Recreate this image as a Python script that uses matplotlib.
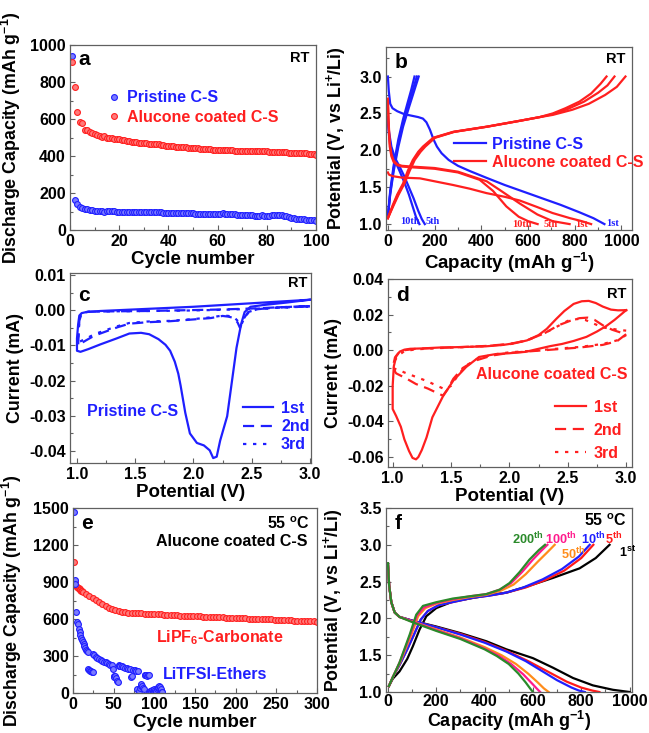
import numpy as np
import matplotlib
matplotlib.use("Agg")
import matplotlib.pyplot as plt
from matplotlib.ticker import MultipleLocator, FormatStrFormatter

plt.rcParams['font.family'] = ['Liberation Sans', 'DejaVu Sans']
plt.rcParams['font.weight'] = 'bold'
plt.rcParams['mathtext.fontset'] = 'custom'
plt.rcParams['mathtext.rm'] = 'Liberation Sans:bold'
plt.rcParams['mathtext.bf'] = 'Liberation Sans:bold'
plt.rcParams['mathtext.it'] = 'Liberation Sans:bold'
plt.rcParams['axes.unicode_minus'] = False

BLUE = '#1f1fff'
RED = '#ff1f1f'

# ---------------- panel a data ----------------
a_cycles = list(range(1, 101))
a_pristine = [940, 162, 138, 127, 120, 115, 111, 108, 106, 104,
              103, 102, 101, 100, 101, 103, 102, 101, 100, 100,
              99, 99, 99, 98, 98, 98, 97, 97, 97, 96,
              96, 96, 96, 95, 95, 95, 95, 93, 92, 92,
              92, 91, 91, 91, 91, 90, 90, 90, 90, 90,
              89, 89, 89, 89, 89, 88, 88, 88, 87, 87,
              88, 90, 89, 88, 86, 85, 84, 83, 82, 81,
              80, 80, 79, 79, 78, 78, 77, 80, 78, 77,
              78, 79, 80, 80, 81, 80, 78, 75, 70, 67,
              64, 62, 60, 58, 57, 55, 54, 53, 52, 51]
a_alucone = [910, 775, 640, 585, 580, 540, 538, 532, 526, 520,
             515, 510, 505, 510, 500, 498, 495, 492, 490, 490,
             488, 486, 483, 480, 478, 476, 474, 472, 470, 468,
             468, 467, 466, 466, 465, 463, 460, 458, 456, 455,
             454, 452, 450, 449, 448, 447, 446, 445, 444, 443,
             442, 441, 440, 440, 439, 438, 436, 434, 434, 434,
             433, 432, 431, 430, 430, 430, 429, 429, 428, 428,
             427, 427, 426, 426, 425, 425, 425, 427, 428, 426,
             424, 423, 422, 421, 421, 420, 420, 419, 418, 417,
             416, 416, 415, 415, 414, 414, 413, 413, 412, 408]

# ---------------- panel b data ----------------
b_pr_d1_x = [0, 4, 10, 20, 40, 70, 100, 130, 150, 165, 180, 195, 210, 230, 260, 300, 350, 420, 500, 580, 660, 740, 820, 880, 927]
b_pr_d1_y = [3.0, 2.8, 2.63, 2.57, 2.53, 2.49, 2.47, 2.45, 2.43, 2.38, 2.28, 2.15, 2.05, 1.96, 1.87, 1.79, 1.72, 1.63, 1.53, 1.44, 1.35, 1.26, 1.16, 1.08, 1.0]
b_pr_d5_x = [0, 5, 15, 30, 50, 70, 90, 110, 130, 145, 158]
b_pr_d5_y = [2.45, 2.25, 2.05, 1.9, 1.78, 1.65, 1.5, 1.35, 1.18, 1.07, 1.0]
b_pr_d10_x = [0, 5, 15, 30, 50, 70, 90, 105, 120, 135]
b_pr_d10_y = [2.4, 2.2, 2.0, 1.86, 1.72, 1.57, 1.4, 1.25, 1.1, 1.0]
b_pr_c1_x = [0, 10, 25, 45, 65, 85, 100, 114]
b_pr_c1_y = [1.1, 1.45, 1.8, 2.15, 2.42, 2.65, 2.82, 3.0]
b_pr_c5_x = [0, 10, 25, 45, 65, 85, 105, 124]
b_pr_c5_y = [1.1, 1.42, 1.76, 2.1, 2.37, 2.6, 2.8, 3.0]
b_pr_c10_x = [0, 10, 25, 45, 65, 90, 110, 132]
b_pr_c10_y = [1.1, 1.4, 1.72, 2.05, 2.32, 2.58, 2.78, 3.0]

b_al_d1_x = [0, 5, 20, 60, 137, 200, 279, 350, 422, 500, 564, 640, 705, 780, 830, 870]
b_al_d1_y = [1.7, 1.67, 1.65, 1.63, 1.62, 1.58, 1.53, 1.48, 1.42, 1.37, 1.32, 1.23, 1.15, 1.08, 1.04, 1.0]
b_al_d5_x = [0, 3, 8, 15, 25, 40, 60, 100, 150, 200, 300, 423, 480, 564, 640, 705, 778]
b_al_d5_y = [2.7, 2.4, 2.1, 1.95, 1.86, 1.81, 1.79, 1.78, 1.77, 1.76, 1.71, 1.58, 1.46, 1.28, 1.13, 1.04, 1.0]
b_al_d10_x = [0, 3, 8, 15, 25, 40, 60, 100, 150, 200, 300, 393, 450, 507, 560, 600, 641]
b_al_d10_y = [2.65, 2.35, 2.05, 1.92, 1.84, 1.8, 1.78, 1.77, 1.76, 1.75, 1.7, 1.6, 1.45, 1.24, 1.1, 1.04, 1.0]
b_al_c1_x = [0, 20, 40, 65, 85, 107, 130, 150, 194, 279, 422, 564, 650, 706, 760, 820, 870, 910, 936]
b_al_c1_y = [1.08, 1.25, 1.4, 1.55, 1.72, 1.87, 1.98, 2.05, 2.17, 2.25, 2.32, 2.4, 2.45, 2.5, 2.57, 2.66, 2.77, 2.9, 3.0]
b_al_c5_x = [0, 22, 43, 68, 89, 111, 135, 155, 198, 282, 424, 565, 650, 706, 770, 840, 900, 940, 970]
b_al_c5_y = [1.08, 1.25, 1.4, 1.55, 1.72, 1.87, 1.98, 2.05, 2.17, 2.25, 2.32, 2.4, 2.45, 2.49, 2.56, 2.66, 2.78, 2.88, 3.0]
b_al_c10_x = [0, 24, 46, 71, 93, 115, 140, 160, 202, 285, 426, 566, 650, 706, 790, 860, 930, 980, 1017]
b_al_c10_y = [1.08, 1.25, 1.4, 1.55, 1.72, 1.87, 1.98, 2.05, 2.17, 2.25, 2.32, 2.4, 2.45, 2.48, 2.55, 2.63, 2.75, 2.86, 3.0]

# ---------------- panel c data ----------------
c1_x = [3.0, 2.8, 2.6, 2.4, 2.2, 2.0, 1.8, 1.6, 1.4, 1.2, 1.08, 1.04, 1.02, 1.01, 1.0, 1.0, 1.03, 1.1, 1.2, 1.34, 1.45, 1.55, 1.62, 1.7, 1.76, 1.8, 1.84, 1.87, 1.89, 1.93, 1.97, 2.03, 2.09, 2.14, 2.17, 2.2, 2.23, 2.29, 2.33, 2.37, 2.41, 2.44, 2.49, 2.6, 2.8, 3.0]
c1_y = [0.003, 0.0026, 0.0022, 0.0018, 0.0014, 0.001, 0.0007, 0.0004, 0.0001, -0.0002, -0.0005, -0.0008, -0.0015, -0.004, -0.008, -0.0115, -0.0118, -0.011, -0.0097, -0.008, -0.0066, -0.0064, -0.0068, -0.0082, -0.0098, -0.0115, -0.0146, -0.018, -0.0214, -0.0291, -0.035, -0.0377, -0.0384, -0.0398, -0.042, -0.0416, -0.037, -0.0301, -0.0204, -0.0107, -0.0039, -0.0005, 0.001, 0.0015, 0.0022, 0.003]
c2_x = [3.0, 2.7, 2.5, 2.2, 1.9, 1.6, 1.3, 1.1, 1.04, 1.02, 1.01, 1.03, 1.08, 1.15, 1.25, 1.35, 1.45, 1.6, 1.8, 2.0, 2.15, 2.25, 2.3, 2.35, 2.38, 2.4, 2.43, 2.47, 2.55, 2.7, 3.0]
c2_y = [0.0012, 0.0008, 0.0005, 0.0002, 0.0, -0.0002, -0.0003, -0.0004, -0.0008, -0.003, -0.01, -0.0095, -0.0085, -0.0072, -0.006, -0.0048, -0.0038, -0.0034, -0.0031, -0.0026, -0.0022, -0.0016, -0.0018, -0.0022, -0.0035, -0.005, -0.0025, -0.0005, 0.0003, 0.0008, 0.0012]
c3_x = [3.0, 2.7, 2.5, 2.2, 1.9, 1.6, 1.3, 1.1, 1.04, 1.02, 1.01, 1.03, 1.08, 1.15, 1.25, 1.35, 1.45, 1.6, 1.8, 2.0, 2.15, 2.25, 2.3, 2.35, 2.38, 2.41, 2.44, 2.48, 2.55, 2.7, 3.0]
c3_y = [0.0011, 0.0007, 0.0004, 0.0001, -0.0001, -0.0002, -0.0003, -0.0004, -0.0007, -0.0025, -0.009, -0.0088, -0.008, -0.0068, -0.0056, -0.0045, -0.0036, -0.0032, -0.003, -0.0025, -0.002, -0.0015, -0.0016, -0.002, -0.003, -0.0042, -0.002, -0.0004, 0.0003, 0.0007, 0.0011]

# ---------------- panel d data ----------------
d1_x = [3.0, 2.9, 2.83, 2.75, 2.66, 2.55, 2.45, 2.35, 2.25, 2.14, 2.0, 1.88, 1.74, 1.63, 1.52, 1.43, 1.34, 1.29, 1.25, 1.22, 1.2, 1.17, 1.14, 1.1, 1.07, 1.03, 1.0, 1.0, 1.01, 1.03, 1.06, 1.1, 1.15, 1.25, 1.4, 1.6, 1.8, 1.95, 2.05, 2.15, 2.25, 2.32, 2.4, 2.47, 2.55, 2.62, 2.68, 2.74, 2.8, 2.87, 2.93, 3.0]
d1_y = [0.0225, 0.017, 0.0136, 0.0105, 0.0075, 0.0052, 0.0035, 0.0023, 0.0008, -0.0009, -0.0017, -0.0022, -0.0038, -0.0094, -0.017, -0.026, -0.0377, -0.049, -0.056, -0.06, -0.0613, -0.0605, -0.0566, -0.05, -0.043, -0.037, -0.033, -0.02, -0.009, -0.0035, -0.0008, 0.0003, 0.0008, 0.001, 0.0015, 0.0018, 0.0022, 0.003, 0.004, 0.0055, 0.0085, 0.012, 0.0175, 0.022, 0.026, 0.0275, 0.0277, 0.0265, 0.0245, 0.0228, 0.0224, 0.0225]
d2_x = [3.0, 2.92, 2.8, 2.6, 2.4, 2.2, 2.0, 1.85, 1.7, 1.6, 1.52, 1.47, 1.43, 1.38, 1.3, 1.2, 1.12, 1.06, 1.03, 1.02, 1.01, 1.02, 1.05, 1.1, 1.2, 1.4, 1.6, 1.8, 2.0, 2.15, 2.3, 2.42, 2.52, 2.6, 2.67, 2.73, 2.8, 2.88, 2.95, 3.0]
d2_y = [0.009, 0.005, 0.003, 0.0015, 0.0005, -0.0005, -0.0015, -0.003, -0.006, -0.01, -0.016, -0.022, -0.0255, -0.024, -0.0215, -0.019, -0.016, -0.014, -0.013, -0.012, -0.007, -0.004, -0.0015, 0.0, 0.0008, 0.0013, 0.0018, 0.0024, 0.0035, 0.0055, 0.0095, 0.014, 0.0165, 0.018, 0.0183, 0.017, 0.014, 0.0115, 0.01, 0.0095]
d3_x = [3.0, 2.92, 2.8, 2.6, 2.4, 2.2, 2.0, 1.85, 1.72, 1.62, 1.55, 1.5, 1.45, 1.38, 1.3, 1.2, 1.1, 1.05, 1.02, 1.01, 1.02, 1.05, 1.1, 1.2, 1.4, 1.6, 1.8, 2.0, 2.15, 2.3, 2.4, 2.5, 2.58, 2.65, 2.72, 2.8, 2.88, 2.95, 3.0]
d3_y = [0.0085, 0.0055, 0.0035, 0.0018, 0.0008, -0.0003, -0.0012, -0.0025, -0.005, -0.009, -0.015, -0.02, -0.022, -0.02, -0.0175, -0.015, -0.0125, -0.011, -0.0105, -0.01, -0.0055, -0.003, -0.0005, 0.0005, 0.0012, 0.0017, 0.0023, 0.0033, 0.0055, 0.0095, 0.013, 0.0165, 0.0175, 0.017, 0.015, 0.0128, 0.012, 0.0113, 0.011]

# ---------------- panel e data ----------------
e_lipf6_cycles = [1, 2, 3, 4, 5, 6, 7, 8, 9, 10, 11, 12, 16, 20, 24, 28, 32, 36, 40, 44,
                  48, 52, 56, 60, 64, 68, 72, 76, 80, 84, 88, 92, 96, 100, 104, 108, 112, 116, 120, 124,
                  128, 132, 136, 140, 144, 148, 152, 156, 160, 164, 168, 172, 176, 180, 184, 188, 192, 196, 200, 204,
                  208, 212, 216, 220, 224, 228, 232, 236, 240, 244, 248, 252, 256, 260, 264, 268, 272, 276, 280, 284,
                  288, 292, 296, 300]
e_lipf6 = [1060, 900, 880, 870, 862, 855, 848, 842, 836, 830, 824, 818, 800, 785, 770, 755, 740, 724, 708, 693,
           680, 670, 663, 658, 655, 652, 650, 648, 646, 645, 643, 642, 641, 640, 638, 637, 635, 634, 632, 631,
           630, 628, 627, 626, 624, 623, 622, 621, 620, 619, 618, 617, 616, 614, 613, 612, 611, 610, 608, 607,
           606, 605, 604, 602, 601, 600, 599, 598, 597, 596, 594, 593, 592, 591, 590, 589, 587, 586, 585, 584,
           582, 581, 580, 578]
e_litfsi_cycles = [1, 2, 3, 4, 5, 6, 7, 8, 9, 10,
                   11, 12, 13, 14, 15, 16, 17, 18, 19, 20,
                   21, 22, 23, 24, 25, 26, 28, 30, 32, 34,
                   36, 38, 40, 42, 44, 46, 48, 49, 50, 51,
                   52, 53, 54, 55, 56, 57, 58, 60, 62, 64,
                   66, 68, 70, 71, 72, 74, 76, 78, 79, 80,
                   81, 82, 83, 84, 85, 86, 87, 88, 89, 90,
                   91, 92, 93, 94, 95, 96, 97, 98, 99, 100,
                   101, 102, 103, 104, 105, 106, 107, 108, 109, 110]
e_litfsi = [1470, 920, 880, 660, 575, 560, 520, 495, 470, 450,
            430, 410, 395, 380, 365, 350, 340, 330, 195, 185,
            180, 175, 170, 172, 320, 305, 295, 285, 278, 270,
            262, 255, 248, 240, 235, 230, 225, 195, 140, 130,
            135, 120, 100, 90, 225, 222, 218, 215, 210, 205,
            202, 198, 195, 130, 135, 190, 185, 180, 30, 175,
            20, 40, 60, 75, 55, 40, 30, 150, 145, 143,
            140, 142, 145, 10, 15, 20, 25, 15, 20, 30,
            25, 20, 35, 40, 50, 55, 50, 30, 10, 5]

# ---------------- panel f data ----------------
f_labels = ['1st', '5th', '10th', '50th', '100th', '200th']
f_colors = ['#000000', '#ff1a1a', '#1f1fff', '#ff8c1a', '#ff1a8c', '#2a8a2a']
f_dis_x = [
    [0, 5, 14, 28, 48, 100, 200, 300, 407, 490, 600, 683, 766, 848, 931, 1000],
    [0, 5, 14, 28, 48, 100, 200, 300, 400, 490, 580, 660, 740, 800, 845, 875],
    [0, 5, 14, 28, 48, 100, 200, 300, 400, 490, 570, 640, 700, 760, 790, 815],
    [0, 5, 14, 28, 48, 100, 200, 300, 400, 470, 530, 580, 620, 645, 665],
    [0, 5, 14, 28, 48, 100, 200, 300, 400, 460, 510, 560, 595, 615, 630],
    [0, 5, 14, 28, 48, 100, 200, 300, 400, 450, 500, 540, 570, 588, 600],
]
f_dis_y = [
    [2.75, 2.45, 2.22, 2.08, 2.02, 1.97, 1.89, 1.8, 1.69, 1.58, 1.46, 1.33, 1.19, 1.09, 1.03, 1.0],
    [2.75, 2.45, 2.22, 2.08, 2.02, 1.97, 1.88, 1.79, 1.68, 1.56, 1.42, 1.28, 1.14, 1.06, 1.02, 1.0],
    [2.75, 2.45, 2.22, 2.08, 2.02, 1.97, 1.88, 1.78, 1.67, 1.55, 1.42, 1.28, 1.16, 1.06, 1.02, 1.0],
    [2.75, 2.45, 2.22, 2.08, 2.02, 1.96, 1.85, 1.74, 1.61, 1.5, 1.38, 1.25, 1.13, 1.05, 1.0],
    [2.75, 2.45, 2.22, 2.08, 2.02, 1.96, 1.84, 1.73, 1.59, 1.49, 1.38, 1.24, 1.12, 1.05, 1.0],
    [2.75, 2.45, 2.22, 2.08, 2.02, 1.95, 1.83, 1.72, 1.58, 1.49, 1.38, 1.25, 1.13, 1.05, 1.0],
]
f_chg_x = [
    [4, 20, 48, 80, 103, 131, 159, 200, 269, 407, 490, 572, 683, 793, 860, 917],
    [4, 20, 50, 80, 105, 135, 165, 210, 280, 350, 420, 490, 570, 650, 730, 800, 850],
    [4, 20, 50, 80, 105, 135, 165, 210, 280, 350, 420, 490, 560, 640, 720, 790, 835],
    [4, 20, 50, 75, 97, 125, 155, 200, 269, 338, 407, 470, 520, 570, 620, 660, 690],
    [4, 20, 48, 72, 93, 120, 150, 200, 269, 338, 407, 462, 510, 555, 600, 635, 660],
    [4, 20, 48, 70, 90, 117, 145, 200, 269, 338, 407, 462, 503, 545, 586, 625, 650],
]
f_chg_y = [
    [1.08, 1.18, 1.28, 1.45, 1.62, 1.85, 2.03, 2.14, 2.23, 2.31, 2.35, 2.43, 2.55, 2.68, 2.82, 3.0],
    [1.08, 1.2, 1.38, 1.58, 1.76, 1.98, 2.1, 2.18, 2.23, 2.28, 2.31, 2.35, 2.42, 2.52, 2.65, 2.82, 3.0],
    [1.08, 1.2, 1.38, 1.58, 1.76, 1.98, 2.1, 2.18, 2.23, 2.28, 2.31, 2.35, 2.42, 2.53, 2.67, 2.84, 3.0],
    [1.08, 1.2, 1.4, 1.6, 1.78, 2.03, 2.14, 2.2, 2.25, 2.29, 2.32, 2.38, 2.46, 2.6, 2.77, 2.9, 3.0],
    [1.08, 1.2, 1.4, 1.6, 1.78, 2.04, 2.15, 2.21, 2.26, 2.3, 2.33, 2.39, 2.48, 2.63, 2.8, 2.92, 3.0],
    [1.08, 1.2, 1.4, 1.6, 1.78, 2.05, 2.17, 2.22, 2.27, 2.3, 2.33, 2.39, 2.48, 2.63, 2.8, 2.93, 3.0],
]

W, H = 649, 733
fig = plt.figure(figsize=(W / 100, H / 100), dpi=100)


def add_ax(l, r, t, b):
    return fig.add_axes([l / W, 1 - b / H, (r - l) / W, (b - t) / H])


def style(ax, xmaj, xmin, ymaj, ymin, yfmt=None):
    for s in ax.spines.values():
        s.set_color('#606060')
        s.set_linewidth(0.9)
    ax.xaxis.set_major_locator(MultipleLocator(xmaj))
    ax.xaxis.set_minor_locator(MultipleLocator(xmin))
    ax.yaxis.set_major_locator(MultipleLocator(ymaj))
    ax.yaxis.set_minor_locator(MultipleLocator(ymin))
    ax.tick_params(which='both', direction='in', top=False, right=False,
                   color='#606060', width=0.8)
    ax.tick_params(which='major', length=3.5, labelsize=11.5, pad=3)
    ax.tick_params(which='minor', length=2)
    if yfmt:
        ax.yaxis.set_major_formatter(FormatStrFormatter(yfmt))
    for lab in ax.get_xticklabels() + ax.get_yticklabels():
        lab.set_fontweight('bold')


XL = dict(fontsize=13.5, fontweight='bold')
YL = dict(fontsize=12.8, fontweight='bold')
LET = dict(fontsize=15, fontweight='bold', va='top')
LEGFS = 11.5

# ---------------- a ----------------
ax = add_ax(70, 316, 45, 230)
ax.plot(a_cycles, a_pristine, 'o', ms=4.2, mfc='#7a7aff', mec=BLUE, mew=0.8, label='Pristine C-S')
ax.plot(a_cycles, a_alucone, 'o', ms=4.2, mfc='#ff7a7a', mec=RED, mew=0.8, label='Alucone coated C-S')
ax.set_xlim(0, 100)
ax.set_ylim(0, 1000)
style(ax, 20, 10, 200, 100)
ax.set_xlabel('Cycle number', **XL, labelpad=1)
ax.set_ylabel('Discharge Capacity (mAh g$^{-1}$)', **YL)
ax.yaxis.set_label_coords(-0.19, 0.5)
leg = ax.legend(loc='upper left', bbox_to_anchor=(0.12, 0.79), frameon=False, fontsize=LEGFS,
                handletextpad=0.3, labelspacing=0.3, handlelength=1.0, borderaxespad=0)
for t, c in zip(leg.get_texts(), [BLUE, RED]):
    t.set_color(c)
    t.set_fontweight('bold')
ax.text(0.035, 0.975, 'a', transform=ax.transAxes, **LET)
ax.text(0.975, 0.97, 'RT', transform=ax.transAxes, fontsize=10.5, fontweight='bold', va='top', ha='right')

# ---------------- b ----------------
ax = add_ax(386, 632, 47, 230)
lw = 1.6
ax.plot(b_pr_d1_x, b_pr_d1_y, color=BLUE, lw=lw, label='Pristine C-S')
for xs, ys in [(b_pr_d5_x, b_pr_d5_y), (b_pr_d10_x, b_pr_d10_y), (b_pr_c1_x, b_pr_c1_y),
               (b_pr_c5_x, b_pr_c5_y), (b_pr_c10_x, b_pr_c10_y)]:
    ax.plot(xs, ys, color=BLUE, lw=lw)
ax.plot(b_al_d1_x, b_al_d1_y, color=RED, lw=lw, label='Alucone coated C-S')
for xs, ys in [(b_al_d5_x, b_al_d5_y), (b_al_d10_x, b_al_d10_y), (b_al_c1_x, b_al_c1_y),
               (b_al_c5_x, b_al_c5_y), (b_al_c10_x, b_al_c10_y)]:
    ax.plot(xs, ys, color=RED, lw=lw)
ax.set_xlim(-8, 1045)
ax.set_ylim(0.92, 3.4)
style(ax, 200, 100, 0.5, 0.25, '%.1f')
ax.set_xlabel('Capacity (mAh g$^{-1}$)', **XL, labelpad=1)
ax.set_ylabel('Potential (V, vs Li$^{+}$/Li)', **YL)
ax.yaxis.set_label_coords(-0.155, 0.5)
leg = ax.legend(loc='upper left', bbox_to_anchor=(0.25, 0.545), frameon=False, fontsize=LEGFS,
                handletextpad=0.4, labelspacing=0.2, handlelength=2.0, borderaxespad=0)
for t, c in zip(leg.get_texts(), [BLUE, RED]):
    t.set_color(c)
    t.set_fontweight('bold')
serif = dict(family='Liberation Serif', fontsize=7.5, fontweight='bold', va='center')
ax.text(51, 1.03, '10th', color=BLUE, **serif)
ax.text(162, 1.03, '5th', color=BLUE, **serif)
ax.text(935, 1.01, '1st', color=BLUE, **serif)
ax.text(534, 0.99, '10th', color=RED, **serif)
ax.text(667, 0.99, '5th', color=RED, **serif)
ax.text(800, 0.99, '1st', color=RED, **serif)
ax.text(0.035, 0.965, 'b', transform=ax.transAxes, **LET)
ax.text(0.975, 0.97, 'RT', transform=ax.transAxes, fontsize=10.5, fontweight='bold', va='top', ha='right')

# ---------------- c ----------------
ax = add_ax(70, 311, 273, 463)
ax.plot(c1_x, c1_y, color=BLUE, lw=1.6, ls='-', label='1st')
ax.plot(c2_x, c2_y, color=BLUE, lw=1.6, ls=(0, (5, 3)), label='2nd')
ax.plot(c3_x, c3_y, color=BLUE, lw=1.6, ls=(0, (1.5, 3)), label='3rd')
ax.set_xlim(0.94, 3.01)
ax.set_ylim(-0.0434, 0.0106)
style(ax, 0.5, 0.25, 0.01, 0.005, '%.2f')
ax.xaxis.set_major_formatter(FormatStrFormatter('%.1f'))
ax.set_xlabel('Potential (V)', **XL, labelpad=1)
ax.set_ylabel('Current (mA)', **YL)
ax.yaxis.set_label_coords(-0.19, 0.5)
leg = ax.legend(loc='upper left', bbox_to_anchor=(0.69, 0.36), frameon=False, fontsize=LEGFS,
                handletextpad=0.5, labelspacing=0.2, handlelength=1.9, borderaxespad=0)
for t in leg.get_texts():
    t.set_color(BLUE)
    t.set_fontweight('bold')
ax.text(0.07, 0.25, 'Pristine C-S', transform=ax.transAxes, color=BLUE, fontsize=LEGFS, fontweight='bold')
ax.text(0.035, 0.93, 'c', transform=ax.transAxes, **LET)
ax.text(0.985, 0.985, 'RT', transform=ax.transAxes, fontsize=10.5, fontweight='bold', va='top', ha='right')

# ---------------- d ----------------
ax = add_ax(388, 632, 279, 467)
ax.plot(d1_x, d1_y, color=RED, lw=1.6, ls='-', label='1st')
ax.plot(d2_x, d2_y, color=RED, lw=1.6, ls=(0, (5, 3)), label='2nd')
ax.plot(d3_x, d3_y, color=RED, lw=1.6, ls=(0, (1.5, 3)), label='3rd')
ax.set_xlim(0.96, 3.05)
ax.set_ylim(-0.0656, 0.04)
style(ax, 0.5, 0.25, 0.02, 0.01, '%.2f')
ax.xaxis.set_major_formatter(FormatStrFormatter('%.1f'))
ax.set_xlabel('Potential (V)', **XL, labelpad=1)
ax.set_ylabel('Current (mA)', **YL)
ax.yaxis.set_label_coords(-0.19, 0.5)
leg = ax.legend(loc='upper left', bbox_to_anchor=(0.66, 0.39), frameon=False, fontsize=LEGFS,
                handletextpad=0.5, labelspacing=0.5, handlelength=1.9, borderaxespad=0)
for t in leg.get_texts():
    t.set_color(RED)
    t.set_fontweight('bold')
ax.text(0.36, 0.47, 'Alucone coated C-S', transform=ax.transAxes, color=RED, fontsize=LEGFS, fontweight='bold')
ax.text(0.035, 0.965, 'd', transform=ax.transAxes, **LET)
ax.text(0.975, 0.96, 'RT', transform=ax.transAxes, fontsize=10.5, fontweight='bold', va='top', ha='right')

# ---------------- e ----------------
ax = add_ax(73, 317, 508, 693)
ax.plot(e_lipf6_cycles, e_lipf6, 'o', ms=4.2, mfc='#ff7a7a', mec=RED, mew=0.8)
ax.plot(e_litfsi_cycles, e_litfsi, 'o', ms=4.2, mfc='#7a7aff', mec=BLUE, mew=0.8)
ax.set_xlim(0, 300)
ax.set_ylim(0, 1500)
style(ax, 50, 25, 300, 150)
ax.set_xlabel('Cycle number', **XL, labelpad=1)
ax.set_ylabel('Discharge Capacity (mAh g$^{-1}$)', **YL)
ax.yaxis.set_label_coords(-0.2, 0.5)
ax.text(0.035, 0.965, 'e', transform=ax.transAxes, **LET)
ax.text(0.97, 0.96, '55 $^{o}$C', transform=ax.transAxes, fontsize=LEGFS, fontweight='bold', va='top', ha='right')
ax.text(0.96, 0.82, 'Alucone coated C-S', transform=ax.transAxes, fontsize=LEGFS, fontweight='bold', va='center', ha='right')
ax.text(0.34, 0.3, 'LiPF$_{6}$-Carbonate', transform=ax.transAxes, fontsize=LEGFS, fontweight='bold', color=RED, va='center')
ax.text(0.37, 0.1, 'LiTFSI-Ethers', transform=ax.transAxes, fontsize=LEGFS, fontweight='bold', color=BLUE, va='center')

# ---------------- f ----------------
ax = add_ax(386, 632, 508, 692)
for i in range(len(f_labels)):
    ax.plot(f_dis_x[i], f_dis_y[i], color=f_colors[i], lw=1.6)
    ax.plot(f_chg_x[i], f_chg_y[i], color=f_colors[i], lw=1.6)
ax.set_xlim(-8, 1010)
ax.set_ylim(1.0, 3.5)
style(ax, 200, 100, 0.5, 0.25, '%.1f')
ax.tick_params(axis='x', which='major', pad=1.5)
ax.set_xlabel('Capacity (mAh g$^{-1}$)', fontsize=13, fontweight='bold', labelpad=0)
ax.set_ylabel('Potential (V, vs Li$^{+}$/Li)', **YL)
ax.yaxis.set_label_coords(-0.165, 0.5)
ax.text(0.035, 0.965, 'f', transform=ax.transAxes, **LET)
ax.text(0.98, 0.975, '55 $^{o}$C', transform=ax.transAxes, fontsize=LEGFS, fontweight='bold', va='top', ha='right')
lab_pos = [(955, 2.89), (897, 3.08), (800, 3.08), (718, 2.87), (650, 3.08), (512, 3.08)]
for (lx, ly), lab, col in zip(lab_pos, f_labels, f_colors):
    num, suf = lab[:-2], lab[-2:]
    ax.text(lx, ly, num + '$^{' + suf + '}$', color=col, fontsize=9.2, fontweight='bold',
            va='center', ha='left')

fig.savefig('out.png', dpi=100)
